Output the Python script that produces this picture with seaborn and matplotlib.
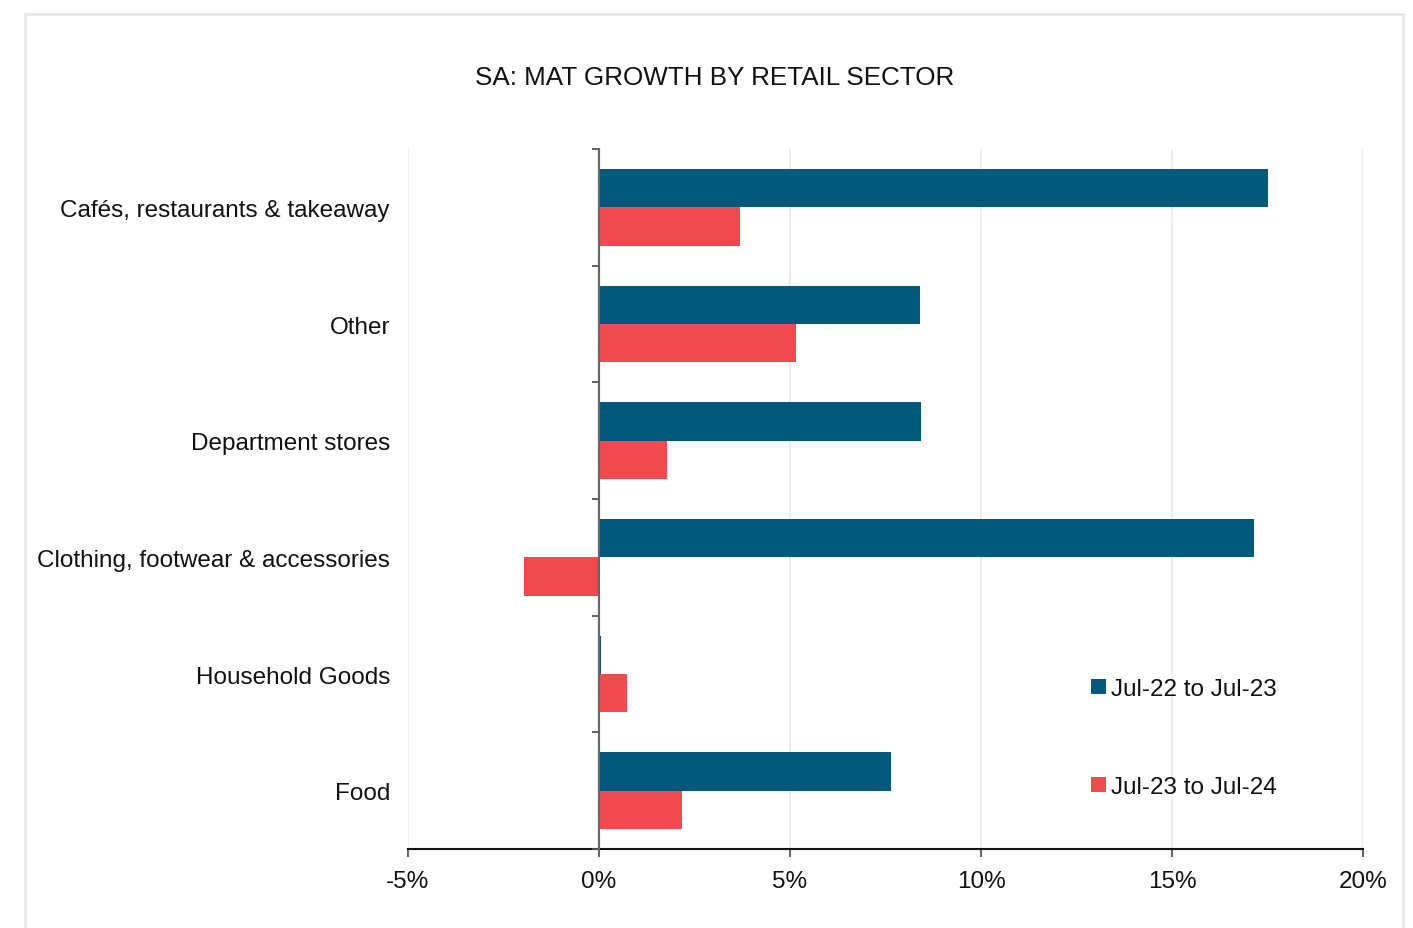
import matplotlib
matplotlib.use("Agg")
import matplotlib.pyplot as plt
from matplotlib.patches import Rectangle
from matplotlib.ticker import FixedLocator, FuncFormatter, NullFormatter
import numpy as np
import pandas as pd
import seaborn as sns

# Moving annual total growth by retail sector, South Australia
sectors = [
    "Cafés, restaurants & takeaway",
    "Other",
    "Department stores",
    "Clothing, footwear & accessories",
    "Household Goods",
    "Food",
]
periods = ["Jul-22 to Jul-23", "Jul-23 to Jul-24"]
growth_22_23 = [17.5, 8.4, 8.43, 17.15, 0.05, 7.65]
growth_23_24 = [3.7, 5.17, 1.78, -1.96, 0.73, 2.18]
x_ticks = [-5, 0, 5, 10, 15, 20]

colors = ["#02597C", "#EF4A4D"]

df = pd.DataFrame({
    "sector": sectors * 2,
    "period": [periods[0]] * len(sectors) + [periods[1]] * len(sectors),
    "growth": growth_22_23 + growth_23_24,
})

sns.set_theme(style="white")
plt.rcParams["font.family"] = ["Liberation Sans", "DejaVu Sans"]
plt.rcParams["text.color"] = "#111111"

W, H = 1413, 929
fig = plt.figure(figsize=(W / 100, H / 100), dpi=100)
fig.patch.set_facecolor("white")
ax = fig.add_axes([408 / W, 1 - 850 / H, (1363 - 408) / W, (850 - 150) / H])

sns.barplot(
    data=df, y="sector", x="growth", hue="period", order=sectors,
    hue_order=periods, palette=colors, saturation=1, width=0.655,
    orient="h", ax=ax, legend=True, linewidth=0,
)

ax.set_xlim(-5, 20)
ax.set_ylim(len(sectors) - 0.5, -0.5)
ax.set_xlabel("")
ax.set_ylabel("")

# x axis
ax.xaxis.set_major_locator(FixedLocator(x_ticks))
ax.xaxis.set_major_formatter(FuncFormatter(lambda v, p: f"{v:.0f}%"))
ax.tick_params(axis="x", direction="out", length=6, width=1.5, color="#666666",
               labelsize=17.5, pad=9, labelcolor="#111111", bottom=True)
ax.grid(axis="x", color="#EBEBEB", linewidth=1.2)
ax.set_axisbelow(True)
for side in ["top", "right", "left"]:
    ax.spines[side].set_visible(False)
ax.spines["bottom"].set_color("#111111")
ax.spines["bottom"].set_linewidth(1.5)

# category labels on the left
ax.tick_params(axis="y", length=0, labelsize=17.5, pad=13, labelcolor="#111111", left=False)

# zero axis with category boundary ticks
zero = ax.secondary_yaxis((0 - x_ticks[0]) / (x_ticks[-1] - x_ticks[0]))
zero.set_zorder(5)
zero.yaxis.set_major_locator(FixedLocator(np.arange(-0.5, len(sectors), 1.0)))
zero.yaxis.set_major_formatter(NullFormatter())
zero.tick_params(axis="y", direction="out", length=5, width=1.3, color="#555555")
zero.spines["left"].set_color("#666666")
zero.spines["left"].set_linewidth(1.5)
ax.axvline(0, color="#666666", linewidth=1.5, zorder=4)

# legend
handles, labels = ax.get_legend_handles_labels()
ax.legend_.remove()
fig.legend(handles, labels, loc="center left", bbox_to_anchor=(1091 / W, 1 - 739 / H),
           frameon=False, fontsize=17.5, handlelength=0.62, handleheight=0.62,
           handletextpad=0.22, labelspacing=3.13, borderpad=0, borderaxespad=0)

fig.text(715 / W, 1 - 78 / H, "SA: MAT GROWTH BY RETAIL SECTOR", ha="center",
         va="center", fontsize=18.7, color="#111111")

# outer frame
fig.patches.append(Rectangle((25 / W, -0.05), (1403 - 25) / W, 1 - 15 / H + 0.05,
                             transform=fig.transFigure, fill=False,
                             edgecolor="#E6E6E6", linewidth=2))

fig.savefig("out.png", dpi=100, facecolor="white")
